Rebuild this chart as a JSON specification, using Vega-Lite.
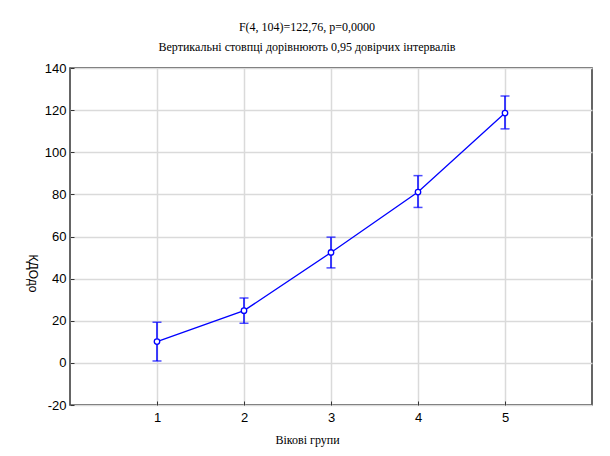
{
  "$schema": "https://vega.github.io/schema/vega-lite/v6.json",
  "autosize": "none",
  "width": 522,
  "height": 337,
  "padding": {"left": 70, "top": 68, "right": 18, "bottom": 51},
  "background": "white",
  "title": {
    "text": ["F(4, 104)=122,76, p=0,0000", "Вертикальні стовпці дорівнюють 0,95 довірчих інтервалів"],
    "font": "Liberation Serif",
    "fontSize": 12,
    "fontWeight": "normal",
    "color": "black",
    "lineHeight": 20,
    "anchor": "middle",
    "dx": -24,
    "offset": 8
  },
  "data": {
    "values": [
      {"group": 1, "mean": 10.1, "lo": 0.9, "hi": 19.3},
      {"group": 2, "mean": 24.8, "lo": 18.8, "hi": 30.8},
      {"group": 3, "mean": 52.4, "lo": 45.1, "hi": 59.7},
      {"group": 4, "mean": 81.1, "lo": 73.8, "hi": 88.9},
      {"group": 5, "mean": 118.6, "lo": 111.1, "hi": 126.7}
    ]
  },
  "config": {
    "view": {"stroke": "#333333", "strokeWidth": 1.5},
    "axis": {
      "domain": false,
      "gridColor": "#dadada",
      "gridWidth": 1.5,
      "tickColor": "#333333",
      "tickSize": -4,
      "labelFont": "Liberation Sans",
      "labelFontSize": 13,
      "labelColor": "black",
      "titleColor": "black",
      "titleFontWeight": "normal"
    }
  },
  "layer": [
    {
      "mark": {"type": "rule", "color": "#0000ff", "strokeWidth": 1.5},
      "encoding": {
        "x": {
          "field": "group", "type": "quantitative",
          "scale": {"domain": [0, 6], "nice": false, "zero": false},
          "axis": {
            "values": [1, 2, 3, 4, 5],
            "format": "d",
            "title": "Вікові групи",
            "titleFont": "Liberation Serif",
            "titleFontSize": 12,
            "titleX": 237,
            "titleY": 29,
            "titleBaseline": "top",
            "labelPadding": 10
          }
        },
        "y": {
          "field": "lo", "type": "quantitative",
          "scale": {"domain": [-20, 140], "nice": false, "zero": false},
          "axis": {
            "values": [-20, 0, 20, 40, 60, 80, 100, 120, 140],
            "labelExpr": "'' + datum.value",
            "title": "КДОдо",
            "titleFont": "Liberation Sans",
            "titleFontSize": 12,
            "titleAngle": 90,
            "titleX": -38,
            "titleY": 205,
            "titleAlign": "center",
            "titleBaseline": "middle",
            "labelPadding": 8
          }
        },
        "y2": {"field": "hi"}
      }
    },
    {
      "mark": {"type": "tick", "orient": "horizontal", "color": "#0000ff", "size": 9, "thickness": 1.5},
      "encoding": {
        "x": {"field": "group", "type": "quantitative"},
        "y": {"field": "lo", "type": "quantitative"}
      }
    },
    {
      "mark": {"type": "tick", "orient": "horizontal", "color": "#0000ff", "size": 9, "thickness": 1.5},
      "encoding": {
        "x": {"field": "group", "type": "quantitative"},
        "y": {"field": "hi", "type": "quantitative"}
      }
    },
    {
      "mark": {"type": "line", "color": "#0000ff", "strokeWidth": 1.3},
      "encoding": {
        "x": {"field": "group", "type": "quantitative"},
        "y": {"field": "mean", "type": "quantitative"}
      }
    },
    {
      "mark": {"type": "point", "shape": "circle", "filled": true, "fill": "white", "stroke": "#0000ff", "size": 30, "strokeWidth": 1.3, "opacity": 1},
      "encoding": {
        "x": {"field": "group", "type": "quantitative"},
        "y": {"field": "mean", "type": "quantitative"}
      }
    }
  ]
}
